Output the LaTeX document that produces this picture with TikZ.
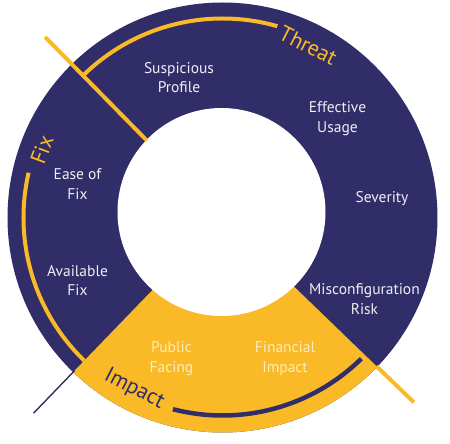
\documentclass[tikz,border=0pt]{standalone}
\usepackage{fontspec}
\setmainfont{PT Sans}
\usepackage{tikz}
\definecolor{ringnavy}{RGB}{49,45,104}
\definecolor{ringgold}{RGB}{250,186,40}
\definecolor{goldtext}{RGB}{253,236,188}
\tikzset{
  navyfill/.style={fill=ringnavy},
  goldfill/.style={fill=ringgold},
  golddivider/.style={line width=4pt, draw=ringgold, line cap=butt},
  navydivider/.style={line width=1.4pt, draw=ringnavy, line cap=butt},
  goldtrack/.style={line width=4pt, draw=ringgold, line cap=butt},
  navytrack/.style={line width=4.5pt, draw=ringnavy, line cap=butt},
  seglabel/.style={align=center, text=white!92!ringnavy, font=\fontsize{15.5}{19.5}\selectfont},
  goldlabel/.style={seglabel, text=goldtext},
  tracklabel/.style={font=\fontsize{22}{24}\selectfont},
}
\begin{document}
\begin{tikzpicture}[x=1pt, y=1pt]
\useasboundingbox (-222.5,-226.5) rectangle (227.5,217.5);
\fill[navyfill] (0,0) circle (215pt);
\fill[goldfill] (0,0) -- (226:215pt) arc[start angle=226, end angle=316, radius=215pt] -- cycle;
\fill[white] (-1,5.5) circle (104pt);
\draw[golddivider] (134.5:108pt) -- (134.5:253pt);
\draw[golddivider] (-44:214pt) -- (-44:266pt);
\draw[navydivider] (226:213pt) -- (226:272pt);
\draw[goldtrack] (134.5:199pt) arc[start angle=134.5, end angle=74, radius=199pt];
\draw[goldtrack] (226:199pt) arc[start angle=226, end angle=167, radius=199pt];
\draw[navytrack] (255.5:198pt) arc[start angle=255.5, end angle=314.5, radius=198pt];
\node[tracklabel, text=ringgold, rotate=-27] (threat) at (63.5:192pt) {Threat};
\node[tracklabel, text=ringgold, rotate=69.5] (fix) at (159.4:193pt) {Fix};
\node[tracklabel, text=ringnavy, rotate=-27.5] (impact) at (242.8:193pt) {Impact};
\node[seglabel] (suspicious) at (-43.5,140) {Suspicious\\Profile};
\node[seglabel] (effective) at (115,99) {Effective\\Usage};
\node[seglabel] (severity) at (159.5,18.5) {Severity};
\node[seglabel] (misconfig) at (142,-81.5) {Misconfiguration\\Risk};
\node[goldlabel] (financial) at (62.5,-141) {Financial\\Impact};
\node[goldlabel] (public) at (-51,-141) {Public\\Facing};
\node[seglabel] (available) at (-145,-63) {Available\\Fix};
\node[seglabel] (ease) at (-145,33.5) {Ease of\\Fix};
\end{tikzpicture}
\end{document}
